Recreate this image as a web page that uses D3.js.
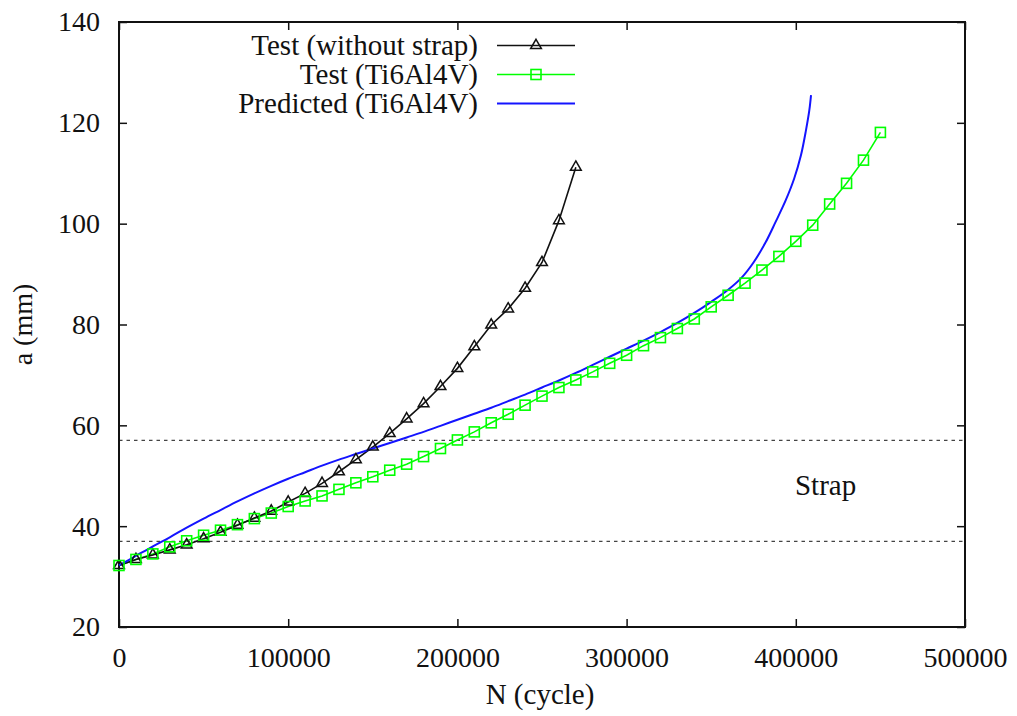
<!DOCTYPE html>
<html>
<head>
<meta charset="utf-8">
<script src="https://cdn.jsdelivr.net/npm/d3@7"></script>
<style>
  body { margin: 0; background: #fff; }
  svg text { font-family: "Liberation Serif", "Times New Roman", serif; fill: #111; }
</style>
</head>
<body>
<div id="chart"></div>
<script>
// crack length a (mm) against cycles N
var cyclesNoStrap = [0, 10000, 20000, 30000, 40000, 50000, 60000, 70000, 80000, 90000,
  100000, 110000, 120000, 130000, 140000, 150000, 160000, 170000, 180000, 190000,
  200000, 210000, 220000, 230000, 240000, 250000, 260000, 270000];
var crackNoStrap = [32.2, 33.4, 34.3, 35.3, 36.3, 37.5, 38.8, 40.2, 41.6, 43.0,
  44.8, 46.5, 48.5, 50.8, 53.2, 55.7, 58.4, 61.3, 64.3, 67.7,
  71.3, 75.6, 79.9, 83.1, 87.2, 92.3, 100.6, 111.2];

var cyclesTi = [0, 10000, 20000, 30000, 40000, 50000, 60000, 70000, 80000, 90000,
  100000, 110000, 120000, 130000, 140000, 150000, 160000, 170000, 180000, 190000,
  200000, 210000, 220000, 230000, 240000, 250000, 260000, 270000, 280000, 290000,
  300000, 310000, 320000, 330000, 340000, 350000, 360000, 370000, 380000, 390000,
  400000, 410000, 420000, 430000, 440000, 450000];
var crackTi = [32.2, 33.4, 34.5, 35.9, 37.1, 38.2, 39.2, 40.3, 41.5, 42.6,
  43.9, 45.0, 46.0, 47.3, 48.6, 49.8, 51.1, 52.3, 53.8, 55.4,
  57.1, 58.7, 60.5, 62.2, 64.0, 65.8, 67.5, 69.0, 70.6, 72.3,
  73.9, 75.8, 77.4, 79.2, 81.1, 83.5, 85.8, 88.2, 90.8, 93.5,
  96.5, 99.7, 103.9, 108.0, 112.6, 118.1];

var cyclesPred = [0, 10000, 20000, 30000, 40000, 50000, 60000, 70000, 80000, 90000,
  100000, 110000, 120000, 130000, 140000, 150000, 160000, 170000, 180000, 190000,
  200000, 210000, 220000, 230000, 240000, 250000, 260000, 270000, 280000, 290000,
  300000, 310000, 320000, 330000, 340000, 350000, 360000, 368000, 375000, 382000,
  388000, 394000, 399000, 403000, 406000, 408000, 409000];
var crackPred = [32.2, 34.1, 36.0, 37.8, 39.7, 41.5, 43.2, 44.9, 46.5, 48.0,
  49.4, 50.7, 52.0, 53.2, 54.3, 55.4, 56.5, 57.6, 58.7, 59.9,
  61.1, 62.3, 63.5, 64.8, 66.1, 67.5, 68.9, 70.4, 72.0, 73.6,
  75.2, 76.8, 78.5, 80.3, 82.3, 84.5, 86.9, 89.3, 92.3, 96.2,
  100.3, 104.6, 108.9, 113.5, 118.5, 122.5, 125.5];

var strapLimits = [37, 57];
var xTicks = [0, 100000, 200000, 300000, 400000, 500000];
var yTicks = [20, 40, 60, 80, 100, 120, 140];
var legendNames = ["Test (without strap)", "Test (Ti6Al4V)", "Predicted (Ti6Al4V)"];

var width = 1017, height = 716;
var margin = {top: 22, right: 52, bottom: 89, left: 119};
var w = width - margin.left - margin.right,
    h = height - margin.top - margin.bottom;
var fs = 28;
var green = "#00ff00", blue = "#1414ff";

var svg = d3.select("#chart").append("svg")
    .attr("width", width).attr("height", height);
var g = svg.append("g").attr("transform", "translate(" + margin.left + "," + margin.top + ")");

var x = d3.scaleLinear().domain([0, 500000]).range([0, w]);
var y = d3.scaleLinear().domain([20, 140]).range([h, 0]);

// strap band boundaries
g.selectAll(".strap").data(strapLimits).enter().append("line")
    .attr("x1", 0).attr("x2", w)
    .attr("y1", function(d) { return y(d); }).attr("y2", function(d) { return y(d); })
    .attr("stroke", "#444").attr("stroke-width", 1.3).attr("stroke-dasharray", "3.5,4");

g.append("text").attr("x", x(399500)).attr("y", y(46.2))
    .attr("font-size", fs + 1).text("Strap");

// axes, ticks drawn inward and mirrored
var tickLen = 8;
g.append("g").attr("transform", "translate(0," + h + ")")
    .call(d3.axisBottom(x).tickValues(xTicks).tickSize(-tickLen).tickPadding(20).tickFormat(d3.format("d")))
    .call(function(a) { a.select(".domain").remove(); a.selectAll("text").attr("font-size", fs).attr("fill", "#111"); });
g.append("g")
    .call(d3.axisTop(x).tickValues(xTicks).tickSize(-tickLen).tickFormat(""))
    .call(function(a) { a.select(".domain").remove(); });
g.append("g")
    .call(d3.axisLeft(y).tickValues(yTicks).tickSize(-tickLen).tickPadding(19))
    .call(function(a) { a.select(".domain").remove(); a.selectAll("text").attr("font-size", fs).attr("fill", "#111"); });
g.append("g").attr("transform", "translate(" + w + ",0)")
    .call(d3.axisRight(y).tickValues(yTicks).tickSize(-tickLen).tickFormat(""))
    .call(function(a) { a.select(".domain").remove(); });
g.selectAll(".tick line").attr("stroke", "#111").attr("stroke-width", 1.5);

g.append("rect").attr("width", w).attr("height", h)
    .attr("fill", "none").attr("stroke", "#111").attr("stroke-width", 2);

g.append("text").attr("transform", "translate(" + (-87) + "," + (h / 2) + ") rotate(-90)")
    .attr("text-anchor", "middle").attr("font-size", fs).text("a (mm)");
g.append("text").attr("x", w / 2 - 2).attr("y", h + 77)
    .attr("text-anchor", "middle").attr("font-size", fs + 1).text("N (cycle)");

var line = d3.line().x(function(d) { return x(d[0]); }).y(function(d) { return y(d[1]); });
var smooth = d3.line().curve(d3.curveCatmullRom.alpha(0.5))
    .x(function(d) { return x(d[0]); }).y(function(d) { return y(d[1]); });
var noStrap = d3.zip(cyclesNoStrap, crackNoStrap);
var ti = d3.zip(cyclesTi, crackTi);
var pred = d3.zip(cyclesPred, crackPred);

var triangle = d3.symbol().type(d3.symbolTriangle).size(50);

g.append("path").attr("d", line(ti))
    .attr("fill", "none").attr("stroke", green).attr("stroke-width", 1.6);
g.append("path").attr("d", line(noStrap))
    .attr("fill", "none").attr("stroke", "#111").attr("stroke-width", 1.6);
g.append("path").attr("d", smooth(pred))
    .attr("fill", "none").attr("stroke", blue).attr("stroke-width", 2);

g.selectAll(".tri").data(noStrap).enter().append("path")
    .attr("transform", function(d) { return "translate(" + x(d[0]) + "," + y(d[1]) + ")"; })
    .attr("d", triangle).attr("fill", "none").attr("stroke", "#111").attr("stroke-width", 1.5);
g.selectAll(".sq").data(ti).enter().append("rect")
    .attr("x", function(d) { return x(d[0]) - 5; }).attr("y", function(d) { return y(d[1]) - 5; })
    .attr("width", 10).attr("height", 10)
    .attr("fill", "none").attr("stroke", green).attr("stroke-width", 1.6);

// legend
var legend = svg.append("g");
var legColors = ["#111", green, blue];
legendNames.forEach(function(name, i) {
  var ly = 45.5 + i * 29;
  legend.append("text").attr("x", 478).attr("y", ly + 9).attr("text-anchor", "end")
      .attr("font-size", fs + 1).text(name);
  legend.append("line").attr("x1", 497).attr("x2", 575).attr("y1", ly).attr("y2", ly)
      .attr("stroke", legColors[i]).attr("stroke-width", i == 2 ? 2 : 1.6);
  if (i == 0) {
    legend.append("path").attr("transform", "translate(536," + ly + ")")
        .attr("d", triangle).attr("fill", "none").attr("stroke", "#111").attr("stroke-width", 1.5);
  } else if (i == 1) {
    legend.append("rect").attr("x", 531).attr("y", ly - 5).attr("width", 10).attr("height", 10)
        .attr("fill", "none").attr("stroke", green).attr("stroke-width", 1.6);
  }
});
</script>
</body>
</html>
